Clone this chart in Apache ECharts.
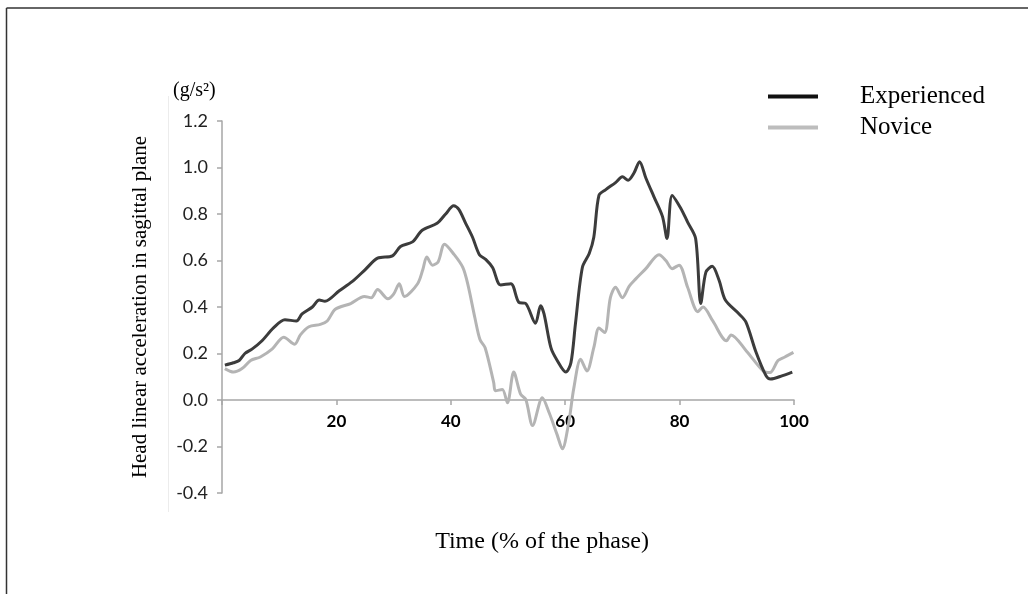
<!DOCTYPE html>
<html>
<head>
<meta charset="utf-8">
<script src="https://cdn.jsdelivr.net/npm/echarts@6/dist/echarts.min.js"></script>
<style>
  html, body { margin: 0; padding: 0; background: #fff; }
  #chart-container { width: 1028px; height: 594px; }
</style>
</head>
<body>
<div id="chart-container"></div>
<script>
// values
var seriesNames = ['Experienced', 'Novice'];
var xTicks = [0, 20, 40, 60, 80, 100];
var yTicks = [-0.4, -0.2, 0.0, 0.2, 0.4, 0.6, 0.8, 1.0, 1.2];

var timeExp = [0.5, 2, 3, 4, 5.3, 7, 9, 11, 13, 14, 15.8, 17, 18, 20.5, 22.8, 25, 27.2, 29.8, 31.2, 33.3,
    35, 37.6, 39.1, 40.5, 41.4, 42.6, 43.8, 45, 46.1, 47.3, 48.7, 50.5, 51.9, 53.1, 54.8, 55.7, 56.3, 57.5,
    58.6, 60.1, 61, 61.8, 63, 64.2, 65, 65.9, 67.1, 68.8, 70, 71, 72, 73, 74.1, 75.5, 77, 77.8, 78.7, 80.2,
    81.4, 82.8, 83.7, 84.6, 85.7, 86.9, 88, 90.4, 91.6, 93.3, 95.1, 95.9, 98, 99.7];
var accExp = [0.15, 0.16, 0.17, 0.2, 0.22, 0.255, 0.31, 0.345, 0.34, 0.37, 0.4, 0.43, 0.425, 0.47, 0.51, 0.56, 0.61, 0.62, 0.66, 0.68,
    0.73, 0.76, 0.8, 0.835, 0.82, 0.76, 0.7, 0.625, 0.605, 0.57, 0.495, 0.5, 0.42, 0.415, 0.33, 0.405, 0.37, 0.225,
    0.17, 0.12, 0.16, 0.33, 0.57, 0.63, 0.7, 0.88, 0.905, 0.935, 0.96, 0.945, 0.975, 1.025, 0.955, 0.875, 0.79, 0.695, 0.88, 0.825,
    0.765, 0.695, 0.415, 0.55, 0.575, 0.515, 0.43, 0.37, 0.335, 0.21, 0.105, 0.09, 0.105, 0.12];

var timeNov = [0.5, 2, 3.5, 5, 6.7, 8.8, 10.8, 12.7, 13.7, 15.2, 17.2, 18.4, 19.8, 22.5, 24.9, 26.1, 27.2, 29, 30, 31,
    31.9, 34.2, 35.1, 35.8, 36.8, 37.8, 38.9, 40.6, 42.1, 43, 44.2, 45.1, 46, 47.5, 47.8, 49, 49.9, 51, 52.2, 53.1,
    54.3, 56, 57.2, 58.6, 59.5, 60.6, 61.5, 62.7, 63.8, 65, 65.9, 66.9, 67.9, 68.8, 70, 71.2, 72.3, 74.1, 76.4, 77.6,
    78.7, 79.9, 81.4, 83.2, 84.1, 85.8, 88.2, 89, 91.7, 94.6, 95.8, 97.2, 98.4, 99.9];
var accNov = [0.135, 0.12, 0.135, 0.17, 0.185, 0.22, 0.27, 0.24, 0.28, 0.315, 0.325, 0.34, 0.39, 0.415, 0.445, 0.44, 0.475, 0.435, 0.455, 0.5,
    0.445, 0.5, 0.56, 0.615, 0.58, 0.595, 0.67, 0.625, 0.57, 0.495, 0.355, 0.26, 0.225, 0.075, 0.04, 0.045, -0.012, 0.12, 0.025, 0.003,
    -0.11, 0.01, -0.055, -0.15, -0.21, -0.1, 0.05, 0.175, 0.125, 0.225, 0.31, 0.29, 0.44, 0.485, 0.44, 0.49, 0.52, 0.565, 0.625, 0.6,
    0.565, 0.58, 0.485, 0.38, 0.4, 0.34, 0.255, 0.28, 0.21, 0.125, 0.118, 0.17, 0.185, 0.205];

(function () {
    var domChart = document.getElementById('chart-container');
    var ioChart = echarts.init(domChart, null, { renderer: 'canvas' });

    function pairs(xs, ys) {
        var out = [];
        for (var i = 0; i < xs.length; i++) {
            out.push([xs[i], ys[i]]);
        }
        return out;
    }

    var serif = '"Liberation Serif", "DejaVu Serif", serif';
    var sans = 'Lato, "Open Sans", sans-serif';

    var chartOption = {
        backgroundColor: '#fff',
        animation: false,
        title: [
            {
                text: '(g/s²)',
                left: 168,
                top: 76,
                textStyle: { fontFamily: serif, fontSize: 20, fontWeight: 'normal', color: '#000' }
            },
            {
                text: 'Time (% of the phase)',
                left: 537,
                top: 525,
                textAlign: 'center',
                textStyle: { fontFamily: serif, fontSize: 24, fontWeight: 'normal', color: '#000' }
            }
        ],
        legend: {
            orient: 'vertical',
            left: 763,
            top: 77,
            icon: 'rect',
            itemWidth: 50,
            itemHeight: 4,
            itemGap: 2,
            data: [
                { name: seriesNames[0], itemStyle: { color: '#111' } },
                { name: seriesNames[1], itemStyle: { color: '#bdbdbd' } }
            ],
            textStyle: {
                fontFamily: serif,
                fontSize: 25,
                lineHeight: 29,
                color: '#000',
                padding: [0, 0, 0, 37]
            }
        },
        graphic: [
            { type: 'line', shape: { x1: 6.5, y1: 8, x2: 1028, y2: 8 }, style: { stroke: '#333', lineWidth: 1.5 } },
            { type: 'line', shape: { x1: 6.5, y1: 8, x2: 6.5, y2: 594 }, style: { stroke: '#333', lineWidth: 1.5 } },
            { type: 'line', shape: { x1: 168.5, y1: 96, x2: 168.5, y2: 512 }, style: { stroke: '#ececec', lineWidth: 1 } }
        ],
        grid: {
            left: 222,
            right: 234,
            top: 121,
            bottom: 101
        },
        xAxis: {
            type: 'value',
            min: xTicks[0],
            max: xTicks[xTicks.length - 1],
            interval: 20,
            axisLine: { onZero: true, lineStyle: { color: '#a6a6a6', width: 1.5 } },
            axisTick: { show: true, length: 5, lineStyle: { color: '#a6a6a6', width: 1.5 } },
            splitLine: { show: false },
            axisLabel: {
                // labels sit just under the zero line, as in the reference
                margin: -80,
                fontFamily: sans,
                fontSize: 17,
                fontWeight: 'bold',
                color: '#000',
                formatter: function (value) {
                    return value === 0 ? '' : String(value);
                }
            }
        },
        yAxis: {
            type: 'value',
            min: yTicks[0],
            max: yTicks[yTicks.length - 1],
            interval: 0.2,
            name: 'Head linear acceleration in sagittal plane',
            nameLocation: 'middle',
            nameRotate: 90,
            nameGap: 71,
            nameTextStyle: { fontFamily: serif, fontSize: 21, color: '#000' },
            axisLine: { show: true, lineStyle: { color: '#a6a6a6', width: 1.5 } },
            axisTick: { show: true, length: 5, lineStyle: { color: '#a6a6a6', width: 1.5 } },
            splitLine: { show: false },
            axisLabel: {
                margin: 14,
                fontFamily: sans,
                fontSize: 18,
                color: '#222',
                formatter: function (value) {
                    return value.toFixed(1);
                }
            }
        },
        series: [
            {
                name: seriesNames[0],
                type: 'line',
                data: pairs(timeExp, accExp),
                smooth: 0.3,
                showSymbol: false,
                lineStyle: { color: '#3c3c3c', width: 3 },
                itemStyle: { color: '#3c3c3c' },
                z: 3
            },
            {
                name: seriesNames[1],
                type: 'line',
                data: pairs(timeNov, accNov),
                smooth: 0.3,
                showSymbol: false,
                lineStyle: { color: '#b4b4b4', width: 3 },
                itemStyle: { color: '#b4b4b4' },
                z: 2
            }
        ]
    };

    if (chartOption && typeof chartOption === 'object') {
        ioChart.setOption(chartOption);
    }
})();
</script>
</body>
</html>
